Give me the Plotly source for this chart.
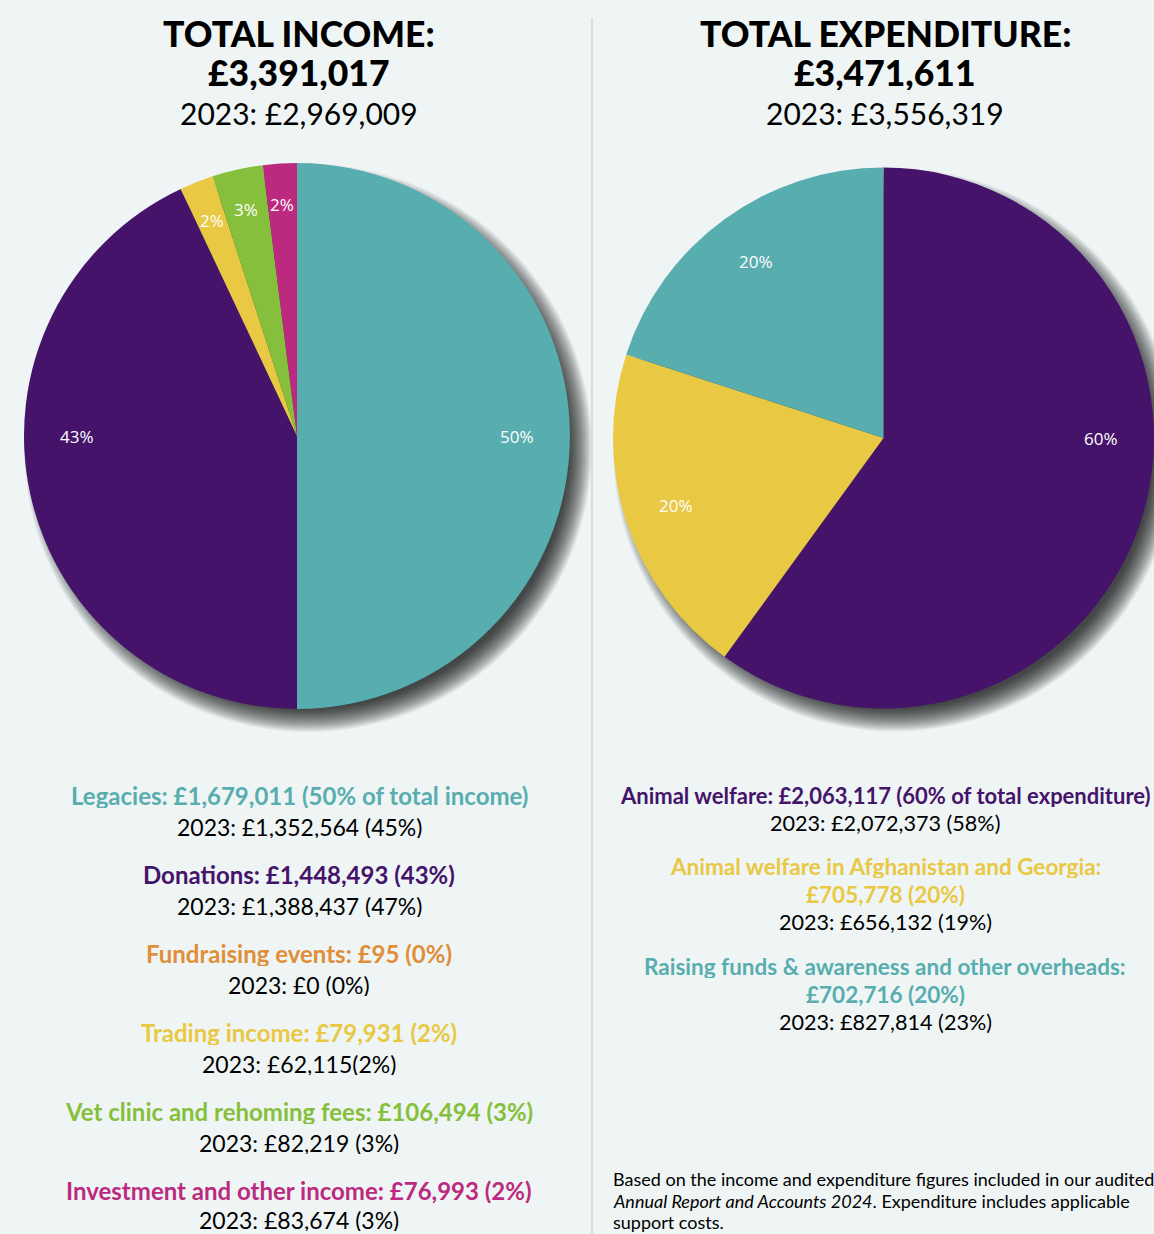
import math
import plotly.graph_objects as go

# ---------------- data ----------------
income_categories = ["Legacies", "Donations", "Fundraising events", "Trading income",
                     "Vet clinic and rehoming fees", "Investment and other income"]
income_amounts = [1679011, 1448493, 95, 79931, 106494, 76993]
income_pct = [50, 43, 0, 2, 3, 2]
income_2023_labels = ["2023: £1,352,564 (45%)", "2023: £1,388,437 (47%)", "2023: £0 (0%)",
                      "2023: £62,115(2%)", "2023: £82,219 (3%)", "2023: £83,674 (3%)"]

exp_categories = ["Animal welfare", "Animal welfare in Afghanistan and Georgia",
                  "Raising funds & awareness and other overheads"]
exp_amounts = [2063117, 705778, 702716]
exp_pct = [60, 20, 20]
exp_2023_labels = ["2023: £2,072,373 (58%)", "2023: £656,132 (19%)", "2023: £827,814 (23%)"]

total_income = 3391017
total_income_2023 = 2969009
total_exp = 3471611
total_exp_2023 = 3556319

income_colors = ["#58adaf", "#45146a", "#e08e37", "#e9c843", "#86bf3c", "#bb2a7f"]
exp_colors = ["#45146a", "#e9c843", "#58adaf"]

# ---------------- layout helpers ----------------
W, H = 1154, 1234
BG = "#eff5f5"
FONT = "Lato"

def px_x(x):
    return x / W

def px_y(y):
    return 1 - y / H

# pie geometry (pixels)
L_cx, L_cy, L_R = 297, 436, 273
R_x0 = 613
R_R = (W - R_x0) / 2
R_cx, R_cy = R_x0 + R_R, 438

fig = go.Figure()

fig.add_trace(go.Pie(
    labels=income_categories, values=income_pct, sort=False, direction="clockwise",
    rotation=0, marker=dict(colors=income_colors, line=dict(width=0)),
    textinfo="none",
    domain=dict(x=[px_x(L_cx - L_R), px_x(L_cx + L_R)], y=[px_y(L_cy + L_R), px_y(L_cy - L_R)]),
    hoverinfo="label+value", showlegend=False,
))

fig.add_trace(go.Pie(
    labels=exp_categories, values=exp_pct, sort=False, direction="clockwise",
    rotation=0, marker=dict(colors=exp_colors, line=dict(width=0)),
    textinfo="none",
    domain=dict(x=[px_x(R_x0), 1.0], y=[px_y(R_cy + R_R), px_y(R_cy - R_R)]),
    hoverinfo="label+value", showlegend=False,
))

shapes = []
# soft drop shadows behind the pies
def shadow(cx, cy, R, dx=11, dy=12, n=24, start=-12, op=0.048):
    out = []
    for k in range(n):
        r = R + start + k
        out.append(dict(type="circle", xref="paper", yref="paper", layer="below",
                        x0=px_x(cx + dx - r), x1=px_x(cx + dx + r),
                        y0=px_y(cy + dy + r), y1=px_y(cy + dy - r),
                        fillcolor="black", opacity=op, line=dict(width=0)))
    return out

shapes += shadow(L_cx, L_cy, L_R)
shapes += shadow(R_cx, R_cy, R_R)
# divider
shapes.append(dict(type="line", xref="paper", yref="paper", x0=px_x(592), x1=px_x(592),
                   y0=0, y1=px_y(18), line=dict(color="#d5dcdc", width=2)))

ann = []
def text(x, y, s, size, color="black", weight=400, xanchor="center", family=FONT, h=None):
    d = dict(x=px_x(x), y=px_y(y), xref="paper", yref="paper", text=s,
             showarrow=False, xanchor=xanchor, yanchor="middle",
             align=xanchor if xanchor != "center" else "center",
             font=dict(family=family, size=size, color=color, weight=weight))
    if h is not None:
        d["height"] = h
        d["valign"] = "middle"
    ann.append(d)

# percentage labels inside the pies (positioned from the slice angles)
def pie_labels(pcts, cx, cy, R):
    total = sum(pcts)
    start = 0.0
    for p in pcts:
        stop = start + 360.0 * p / total
        if p > 0:
            ang = (start + stop) / 2
            for cross in (90.0, 270.0):
                if start + 30 <= cross <= stop - 30:
                    ang = cross
            rr = 0.85 if p < 10 else 0.805
            a = math.radians(ang)
            text(cx + rr * R * math.sin(a), cy - rr * R * math.cos(a), f"{p}%", 17,
                 color="white", family="Open Sans")
        start = stop

pie_labels(income_pct, L_cx, L_cy, L_R)
pie_labels(exp_pct, R_cx, R_cy, R_R)

# titles
text(299, 33, "TOTAL INCOME:", 35.5, weight=900, h=36)
text(299, 72, f"£{total_income:,}", 35.5, weight=900, h=36)
text(299, 113, f"2023: £{total_income_2023:,}", 30, h=34)
text(885, 33, "TOTAL EXPENDITURE:", 35.5, weight=900, h=36)
text(885, 72, f"£{total_exp:,}", 35.5, weight=900, h=36)
text(885, 113, f"2023: £{total_exp_2023:,}", 30, h=34)

# income list
y = 795
for i, cat in enumerate(income_categories):
    extra = " of total income" if i == 0 else ""
    text(299, y, f"{cat}: £{income_amounts[i]:,} ({income_pct[i]}%{extra})", 24,
         color=income_colors[i], weight=700, h=26)
    dy2 = 32 if i < len(income_categories) - 1 else 30
    text(299, y + dy2, income_2023_labels[i], 23, h=22)
    y += 79

# expenditure list
text(885, 795, f"{exp_categories[0]}: £{exp_amounts[0]:,} ({exp_pct[0]}% of total expenditure)", 22,
     color=exp_colors[0], weight=700, h=24)
text(885, 823, exp_2023_labels[0], 21.6, h=24)
ys = [866, 966]
for j, i in enumerate([1, 2]):
    y0 = ys[j]
    text(885, y0, f"{exp_categories[i]}:", 22.5, color=exp_colors[i], weight=700, h=24)
    text(885, y0 + 28, f"£{exp_amounts[i]:,} ({exp_pct[i]}%)", 22.5, color=exp_colors[i], weight=700, h=24)
    text(885, y0 + 56, exp_2023_labels[i], 21.6, h=24)

# footnote
text(611, 1179, "Based on the income and expenditure figures included in our audited", 18, xanchor="left", h=20)
text(611, 1201, "<i>Annual Report and Accounts 2024</i>. Expenditure includes applicable", 18, xanchor="left", h=20)
text(611, 1222, "support costs.", 18, xanchor="left", h=20)

fig.update_layout(
    width=W, height=H, margin=dict(l=0, r=0, t=0, b=0),
    paper_bgcolor=BG, plot_bgcolor=BG,
    shapes=shapes, annotations=ann, showlegend=False,
)

fig.write_html("out.html", config={"displayModeBar": False},
               post_script="document.body.style.margin='0';document.body.style.overflow='hidden';")
